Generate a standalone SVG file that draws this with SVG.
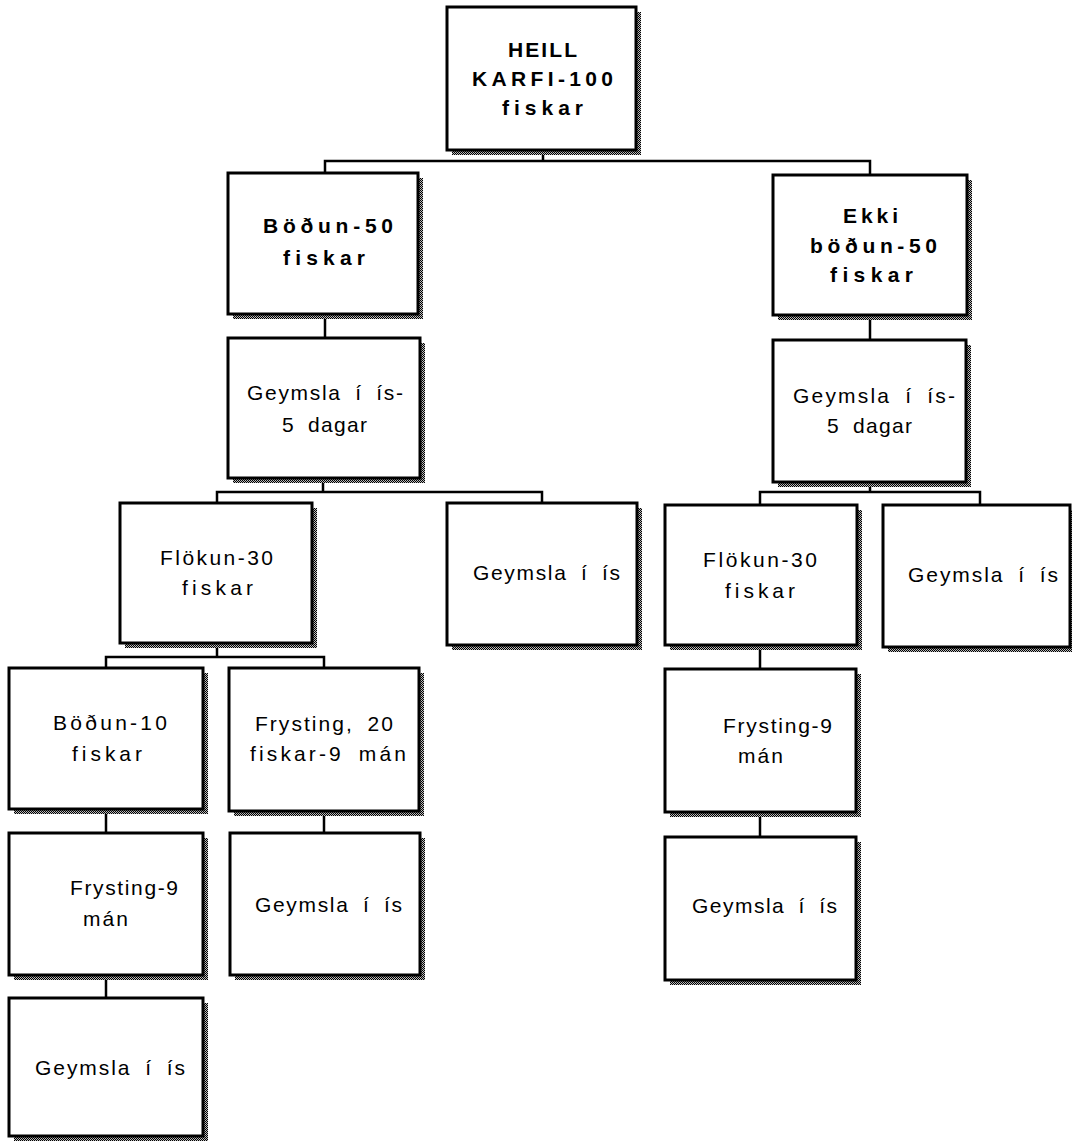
<svg xmlns="http://www.w3.org/2000/svg" width="1072" height="1144" viewBox="0 0 1072 1144">
<style>
.box{fill:#fff;stroke:#000;stroke-width:3}
.sh{fill:url(#dither)}
.conn{fill:none;stroke:#000;stroke-width:2.5;stroke-linecap:square}
text{font-family:"Liberation Sans",Arial,sans-serif;font-size:21px;fill:#000}
.b{font-weight:bold}
.r{word-spacing:6px}
</style>
<defs>
<pattern id="dither" width="2" height="2" patternUnits="userSpaceOnUse">
<rect width="2" height="2" fill="#bbb"/>
<rect width="1" height="1" fill="#000"/>
<rect x="1" y="1" width="1" height="1" fill="#000"/>
</pattern>
</defs>
<rect width="1072" height="1144" fill="#fff"/>
<g id="connectors">
<path class="conn" d="M543 155V161M325 161H870M325 161V173M870 161V175"/>
<path class="conn" d="M325 318V338M870 320V340"/>
<path class="conn" d="M323 483V492M217 492H542M217 492V503M542 492V503"/>
<path class="conn" d="M870 487V492M760 492H980M760 492V505M980 492V505"/>
<path class="conn" d="M217 647V657M106 657H324M106 657V668M324 657V668"/>
<path class="conn" d="M106 814V833M324 816V833M106 980V998"/>
<path class="conn" d="M760 650V669M760 817V837"/>
</g>
<g id="n-top">
<rect class="sh" x="452" y="12" width="189" height="143"/>
<rect class="box" x="447" y="7" width="189" height="143"/>
<text class="b" x="508" y="57" textLength="69" lengthAdjust="spacing">HEILL</text>
<text class="b" x="472" y="86" textLength="141" lengthAdjust="spacing">KARFI-100</text>
<text class="b" x="502" y="115" textLength="81" lengthAdjust="spacing">fiskar</text>
</g>
<g id="n-bodun50">
<rect class="sh" x="233" y="178" width="190" height="141"/>
<rect class="box" x="228" y="173" width="190" height="141"/>
<text class="b" x="263" y="233" textLength="130" lengthAdjust="spacing">Böðun-50</text>
<text class="b" x="283" y="265" textLength="82" lengthAdjust="spacing">fiskar</text>
</g>
<g id="n-ekki">
<rect class="sh" x="778" y="180" width="194" height="140"/>
<rect class="box" x="773" y="175" width="194" height="140"/>
<text class="b" x="843" y="223" textLength="55" lengthAdjust="spacing">Ekki</text>
<text class="b" x="810" y="253" textLength="127" lengthAdjust="spacing">böðun-50</text>
<text class="b" x="830" y="282" textLength="83" lengthAdjust="spacing">fiskar</text>
</g>
<g id="n-geymslaL">
<rect class="sh" x="233" y="343" width="192" height="140"/>
<rect class="box" x="228" y="338" width="192" height="140"/>
<text class="r" x="247" y="400" textLength="156" lengthAdjust="spacing">Geymsla í ís-</text>
<text class="r" x="282" y="432" textLength="85" lengthAdjust="spacing">5 dagar</text>
</g>
<g id="n-geymslaR">
<rect class="sh" x="778" y="345" width="193" height="142"/>
<rect class="box" x="773" y="340" width="193" height="142"/>
<text class="r" x="793" y="403" textLength="162" lengthAdjust="spacing">Geymsla í ís-</text>
<text class="r" x="827" y="433" textLength="85" lengthAdjust="spacing">5 dagar</text>
</g>
<g id="n-flokunL">
<rect class="sh" x="125" y="508" width="192" height="140"/>
<rect class="box" x="120" y="503" width="192" height="140"/>
<text x="160" y="565" textLength="113" lengthAdjust="spacing">Flökun-30</text>
<text x="182" y="595" textLength="71" lengthAdjust="spacing">fiskar</text>
</g>
<g id="n-geymslaM">
<rect class="sh" x="452" y="508" width="190" height="142"/>
<rect class="box" x="447" y="503" width="190" height="142"/>
<text class="r" x="473" y="580" textLength="147" lengthAdjust="spacing">Geymsla í ís</text>
</g>
<g id="n-flokunR">
<rect class="sh" x="670" y="510" width="192" height="140"/>
<rect class="box" x="665" y="505" width="192" height="140"/>
<text x="703" y="567" textLength="114" lengthAdjust="spacing">Flökun-30</text>
<text x="725" y="598" textLength="70" lengthAdjust="spacing">fiskar</text>
</g>
<g id="n-geymslaRR">
<rect class="sh" x="888" y="510" width="187" height="142"/>
<rect class="box" x="883" y="505" width="187" height="142"/>
<text class="r" x="908" y="582" textLength="150" lengthAdjust="spacing">Geymsla í ís</text>
</g>
<g id="n-bodun10">
<rect class="sh" x="14" y="673" width="194" height="141"/>
<rect class="box" x="9" y="668" width="194" height="141"/>
<text x="53" y="730" textLength="114" lengthAdjust="spacing">Böðun-10</text>
<text x="72" y="761" textLength="70" lengthAdjust="spacing">fiskar</text>
</g>
<g id="n-frysting20">
<rect class="sh" x="234" y="673" width="190" height="143"/>
<rect class="box" x="229" y="668" width="190" height="143"/>
<text class="r" x="255" y="731" textLength="138" lengthAdjust="spacing">Frysting, 20</text>
<text class="r" x="250" y="761" textLength="156" lengthAdjust="spacing">fiskar-9 mán</text>
</g>
<g id="n-frysting9R">
<rect class="sh" x="670" y="674" width="191" height="143"/>
<rect class="box" x="665" y="669" width="191" height="143"/>
<text x="723" y="733" textLength="109" lengthAdjust="spacing">Frysting-9</text>
<text x="738" y="763" textLength="45" lengthAdjust="spacing">mán</text>
</g>
<g id="n-frysting9L">
<rect class="sh" x="14" y="838" width="194" height="142"/>
<rect class="box" x="9" y="833" width="194" height="142"/>
<text x="70" y="895" textLength="108" lengthAdjust="spacing">Frysting-9</text>
<text x="83" y="926" textLength="45" lengthAdjust="spacing">mán</text>
</g>
<g id="n-geymslaFr20">
<rect class="sh" x="235" y="838" width="190" height="142"/>
<rect class="box" x="230" y="833" width="190" height="142"/>
<text class="r" x="255" y="912" textLength="147" lengthAdjust="spacing">Geymsla í ís</text>
</g>
<g id="n-geymslaR2">
<rect class="sh" x="670" y="842" width="191" height="143"/>
<rect class="box" x="665" y="837" width="191" height="143"/>
<text class="r" x="692" y="913" textLength="145" lengthAdjust="spacing">Geymsla í ís</text>
</g>
<g id="n-geymslaBL">
<rect class="sh" x="14" y="1003" width="194" height="138"/>
<rect class="box" x="9" y="998" width="194" height="138"/>
<text class="r" x="35" y="1075" textLength="150" lengthAdjust="spacing">Geymsla í ís</text>
</g>
</svg>
